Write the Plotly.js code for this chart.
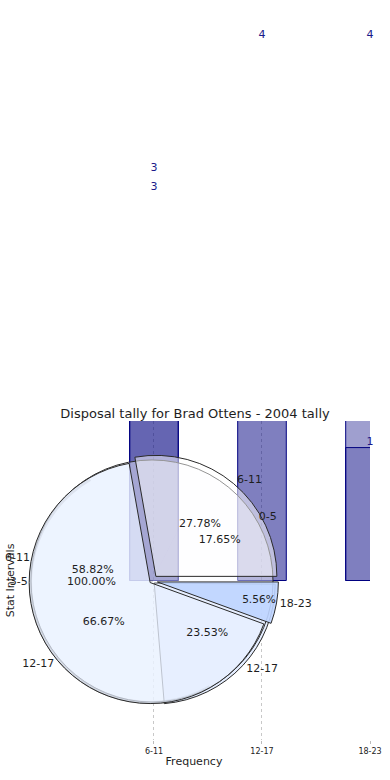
<!DOCTYPE html>
<html>
<head>
<meta charset="utf-8">
<script src="https://cdn.plot.ly/plotly-3.0.1.min.js"></script>
<style>html,body{margin:0;padding:0;background:#fff;}#chart{width:390px;height:780px;}</style>
</head>
<body>
<div id="chart"></div>
<script>
// ---- data ----
const categories = ['6-11', '12-17', '18-23'];
const seriesMain = [3, 4, 4];
const seriesSecond = [3, null, 1];

const pieALabels = ['6-11', '18-23', '12-17'];
const pieAValues = [5, 1, 12];
const pieBLabels = ['0-5', '12-17', '6-11'];
const pieBValues = [3, 4, 10];
const pieCLabels = ['3-5'];
const pieCValues = [1];

const chartTitle = 'Disposal tally for Brad Ottens - 2004 tally';
const xTitle = 'Frequency';
const yTitle = 'Stat Intervals';

// ---- geometry / style ----
const W = 390, H = 780;
const M = {l: 18, r: 20, t: 20, b: 40};
const PW = W - M.l - M.r, PH = H - M.t - M.b;
const AXIS_TOP = 421;                      // top of the visible bar axis (px)
const yDomainTop = (H - M.b - AXIS_TOP) / PH;
const Y_RANGE = [-1.2, 1.2];
const unitPx = (H - M.b - AXIS_TOP) / (Y_RANGE[1] - Y_RANGE[0]);
const Y2_RANGE = [Y_RANGE[0], Y_RANGE[0] + PH / unitPx];
const LABEL_LIFT = 8 / unitPx;             // extra lift (px) for the main value labels
const Y3_RANGE = [Y2_RANGE[0] - LABEL_LIFT, Y2_RANGE[1] - LABEL_LIFT];
const X_RANGE = [-1.259, 2];

const PIE_CX = 152, PIE_CY = 581, PIE_R = 121;
function pieDomain(maxPull, dx, dy) {
  const half = PIE_R * (1 + maxPull);
  const cx = PIE_CX + (dx || 0) - M.l;
  const cy = (M.t + PH) - (PIE_CY + (dy || 0));
  return {x: [(cx - half) / PW, (cx + half) / PW], y: [(cy - half) / PH, (cy + half) / PH]};
}
const FONT = 'DejaVu Sans, Verdana, sans-serif';
const navy = 'rgb(0,0,128)';
const edge = '#2a2a2a';
const clear = 'rgba(0,0,0,0)';

const pullA = [0.05, 0.045, 0.02];
const pullB = [0, 0.025, 0];
const maxA = Math.max(...pullA), maxB = Math.max(...pullB);

const pctText = {size: 11, color: '#1e1e1e', family: FONT};
const lblText = {size: 11, color: '#1e1e1e', family: FONT};

const pieA = {labels: pieALabels, values: pieAValues, sort: false, direction: 'clockwise', rotation: -10,
              pull: pullA, domain: pieDomain(maxA), hoverinfo: 'skip'};
const pieB = {labels: pieBLabels, values: pieBValues, sort: false, direction: 'clockwise', rotation: 27,
              pull: pullB, domain: pieDomain(maxB), hoverinfo: 'skip'};
const pieC = {labels: pieCLabels, values: pieCValues, sort: false, direction: 'clockwise', rotation: 90,
              hole: 0.001, domain: pieDomain(0), hoverinfo: 'skip'};

function fillTrace(base, colors, line) {
  return Object.assign({type: 'pie', textinfo: 'none', marker: {colors: colors, line: line}}, base);
}
function pctTrace(base) {
  return Object.assign({type: 'pie', texttemplate: '%{percent:.2%}', textposition: 'inside',
    insidetextorientation: 'horizontal', textfont: pctText,
    marker: {colors: base.values.map(() => clear), line: {width: 0}}}, base);
}
function lblTrace(base) {
  return Object.assign({type: 'pie', texttemplate: '%{label}', textposition: 'outside',
    outsidetextfont: lblText, marker: {colors: base.values.map(() => clear), line: {width: 0}}}, base);
}

const barLabelFont = {size: 11, color: '#1a1a8a', family: FONT};
const toText = arr => arr.map(v => (v === null ? '' : String(v)));

const traces = [
  {type: 'bar', x: categories, y: seriesSecond, width: 0.45, hoverinfo: 'skip',
   marker: {color: ['rgba(0,0,128,0.36)', 'rgba(0,0,128,0.2)', 'rgba(0,0,128,0.2)'], line: {color: navy, width: 1}}},
  {type: 'bar', x: categories, y: seriesMain, width: 0.45, hoverinfo: 'skip',
   marker: {color: ['rgba(0,0,128,0.375)', 'rgba(0,0,128,0.5)', 'rgba(0,0,128,0.375)'], line: {color: navy, width: 1}}},
  // value labels, on taller overlay scales with the same px-per-unit
  {type: 'scatter', mode: 'text', x: categories, y: seriesMain, text: toText(seriesMain),
   xaxis: 'x2', yaxis: 'y3', textposition: 'top center', cliponaxis: false, hoverinfo: 'skip',
   textfont: barLabelFont},
  {type: 'scatter', mode: 'text', x: categories, y: seriesSecond, text: toText(seriesSecond),
   xaxis: 'x2', yaxis: 'y2', textposition: ['bottom center', 'bottom center', 'top center'],
   cliponaxis: false, hoverinfo: 'skip', textfont: barLabelFont},
  // shadow arc (decoration)
  {type: 'pie', values: [1, 1], sort: false, direction: 'clockwise', rotation: 150, hole: 0.975,
   domain: pieDomain(0, -2, 2), textinfo: 'none', hoverinfo: 'skip',
   marker: {colors: ['rgba(70,70,70,0.55)', clear], line: {width: 0}}},
  fillTrace(pieB, ['rgba(255,255,255,0.3)', 'rgba(196,216,255,0.45)', 'rgba(255,255,255,0.3)'],
            {color: edge, width: [0, 1, 0]}),
  fillTrace(pieC, ['rgba(240,245,255,0.2)'], {color: edge, width: 1}),
  fillTrace(pieA, ['rgba(255,255,255,0.5)', 'rgba(190,212,255,0.9)', 'rgba(232,240,255,0.72)'],
            {color: edge, width: 1}),
  pctTrace(pieB), pctTrace(pieC), pctTrace(pieA),
  lblTrace(pieB), lblTrace(pieC), lblTrace(pieA)
];

const layout = {
  width: W, height: H, margin: M, showlegend: false, barmode: 'overlay',
  paper_bgcolor: '#fff', plot_bgcolor: 'rgba(0,0,0,0)',
  font: {family: FONT, color: '#1e1e1e'},
  title: {text: chartTitle, font: {size: 13, family: FONT, color: '#1e1e1e'},
          x: 0.5, xanchor: 'center', xref: 'container', y: 1 - 413 / H, yanchor: 'middle', yref: 'container'},
  xaxis: {type: 'category', range: X_RANGE, anchor: 'y', showgrid: true, gridcolor: '#c8c8c8', griddash: 'dot', gridwidth: 1,
          ticks: 'outside', ticklen: 3, tickcolor: '#bbbbbb', tickfont: {size: 8, family: FONT, color: '#222'},
          showline: false, zeroline: false, fixedrange: true,
          title: {text: xTitle, font: {size: 11, family: FONT, color: '#1e1e1e'}, standoff: 2}},
  yaxis: {domain: [0, yDomainTop], range: Y_RANGE, showticklabels: false, showgrid: false, zeroline: false, ticks: '',
          showline: false, fixedrange: true,
          title: {text: yTitle, font: {size: 11, family: FONT, color: '#1e1e1e'}, standoff: 0}},
  xaxis2: {type: 'category', range: X_RANGE, anchor: 'y2', visible: false, showgrid: false, fixedrange: true},
  yaxis2: {domain: [0, 1], range: Y2_RANGE, anchor: 'x2', visible: false, showgrid: false, zeroline: false, fixedrange: true},
  yaxis3: {overlaying: 'y2', range: Y3_RANGE, anchor: 'x2', visible: false, showgrid: false, zeroline: false, fixedrange: true}
};

Plotly.newPlot('chart', traces, layout, {displayModeBar: false, staticPlot: true});
</script>
</body>
</html>
